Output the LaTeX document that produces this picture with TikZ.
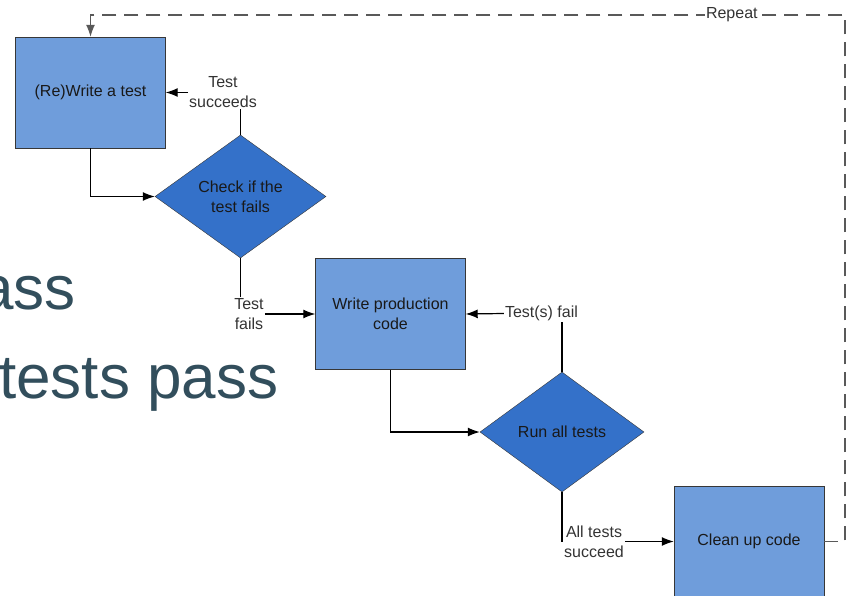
\documentclass[tikz,border=0pt]{standalone}
\usepackage{fontspec}
\setmainfont{Liberation Sans}
\usetikzlibrary{shapes.geometric,arrows.meta}
\definecolor{boxblue}{RGB}{111,157,219}
\definecolor{diablue}{RGB}{52,113,201}
\definecolor{slidegray}{RGB}{50,78,92}
\definecolor{edgegray}{RGB}{55,55,55}
\begin{document}
\begin{tikzpicture}[x=1pt,y=-1pt,
    box/.style={draw=edgegray,fill=boxblue,minimum width=150pt,minimum height=111pt,
        inner sep=0pt,align=center,text=black!90,font=\fontsize{16}{20}\selectfont},
    decision/.style={diamond,draw=edgegray,fill=diablue,inner sep=0pt,align=center,
        text=black!90,font=\fontsize{16}{20}\selectfont},
    lbl/.style={align=center,inner sep=1pt,text=black!80,font=\fontsize{16}{20}\selectfont},
    arr/.style={-{Latex[length=12pt,width=9pt]},line width=1.2pt},
    repeatline/.style={dash pattern=on 14pt off 8pt,line width=1.3pt,draw=black!65}]
    \useasboundingbox (0,0) rectangle (848,596);

    % slide text behind the chart
    \begin{scope}
    \clip (0,0) rectangle (848,596);
    \node[anchor=base west,inner sep=0pt,text=slidegray,font=\fontsize{62}{62}\selectfont] (bgone) at (-21,309) {ass};
    \node[anchor=base west,inner sep=0pt,text=slidegray,font=\fontsize{62}{62}\selectfont] (bgtwo) at (-1,398) {tests pass};
    \end{scope}

    \node[box] (write) at (90.5,92.5) {(Re)Write a test};
    \node[decision,minimum width=171pt,minimum height=123pt] (check) at (240.5,196.5) {Check if the\\test fails};
    \node[box] (prod) at (390.5,314) {Write production\\code};
    \node[decision,minimum width=164pt,minimum height=120pt] (run) at (562,432) {Run all tests};
    \node[box] (clean) at (749,541.5) {Clean up code};

    \node[lbl] (succ) at (223,92.5) {Test\\succeeds};
    \node[lbl] (tfail) at (249,314) {Test\\fails};
    \node[lbl] (tsfail) at (541.5,313.5) {Test(s) fail};
    \node[lbl] (allok) at (594,541.5) {All tests\\succeed};

    \draw[arr] (write.south) |- (check.west);
    \draw[line width=1.2pt] (check.north) -- (check.north |- succ.south);
    \draw[arr] (succ.west) -- (write.east);
    \draw[line width=1.2pt] (check.south) -- (check.south |- tfail.north);
    \draw[arr] (tfail.east) -- (prod.west);
    \draw[arr] (prod.south) |- (run.west);
    \draw[line width=1.2pt] (run.north) -- (run.north |- tsfail.south);
    \draw[arr] (tsfail.west) -- (prod.east);
    \draw[line width=1.2pt] (run.south) -- (run.south |- allok.west);
    \draw[arr] (allok.east) -- (clean.west);

    % back to the start
    \coordinate (rc) at (845,541.5);
    \coordinate (tc) at (845,15);
    \coordinate (lc) at (90.5,15);
    \draw[repeatline,arr] (clean.east) -- (rc) -- (tc)
        -- node[lbl,pos=0.15,fill=white,inner sep=1pt] (rep) {Repeat} (lc) -- (write.north);
\end{tikzpicture}
\end{document}
